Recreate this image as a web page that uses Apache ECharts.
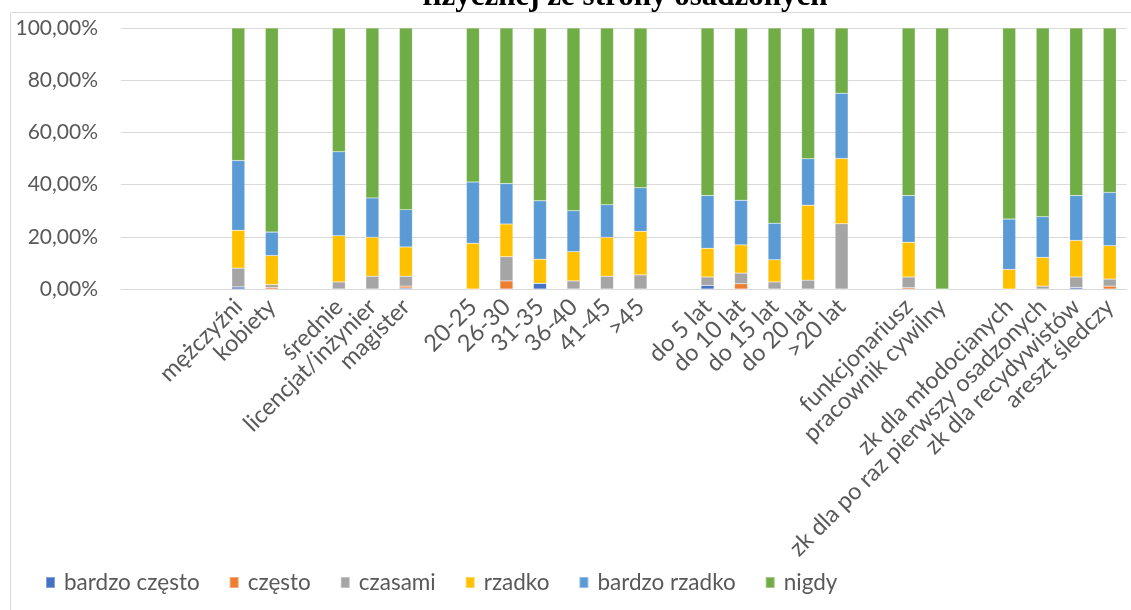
<!DOCTYPE html>
<html>
<head>
<meta charset="utf-8">
<script src="https://cdn.jsdelivr.net/npm/echarts@6/dist/echarts.min.js"></script>
<style>
  html, body { margin: 0; padding: 0; background: #fff; }
  #chart { width: 1131px; height: 610px; }
</style>
</head>
<body>
<div id="chart"></div>
<script>
// kategorie (puste miejsca = odstępy między grupami)
var categories = [' ', '  ', '   ', 'mężczyźni', 'kobiety', '    ',
  'średnie', 'licencjat/inżynier', 'magister', '     ',
  '20-25', '26-30', '31-35', '36-40', '41-45', '>45', '      ',
  'do 5 lat', 'do 10 lat', 'do 15 lat', 'do 20 lat', '>20 lat', '       ',
  'funkcjonariusz', 'pracownik cywilny', '        ',
  'zk dla młodocianych', 'zk dla po raz pierwszy osadzonych', 'zk dla recydywistów', 'areszt śledczy'];

var seriesNames = ['bardzo często', 'często', 'czasami', 'rzadko', 'bardzo rzadko', 'nigdy'];
var colors = ['#4472C4', '#ED7D31', '#A5A5A5', '#FFC000', '#5B9BD5', '#70AD47'];

var bardzoCzesto = [null, null, null, 0.8, 0, null, 0, 0, 0.4, null,
  0, 0, 2.2, 0, 0, 0, null, 1.4, 0, 0, 0, 0, null, 0, 0, null, 0, 0, 0.6, 0];
var czesto = [null, null, null, 0, 0.6, null, 0, 0, 0.7, null,
  0, 3.1, 0, 0, 0, 0, null, 0, 2.0, 0, 0, 0, null, 0.5, 0, null, 0, 0, 0, 1.1];
var czasami = [null, null, null, 7.2, 1.1, null, 2.7, 4.9, 3.8, null,
  0, 9.3, 0, 3.1, 4.9, 5.4, null, 3.2, 4.1, 2.7, 3.4, 25, null, 4.1, 0, null, 0, 1.1, 4.0, 2.7];
var rzadko = [null, null, null, 14.5, 11.1, null, 17.7, 14.9, 11.2, null,
  17.5, 12.5, 9.2, 11.2, 14.9, 16.7, null, 11.0, 10.8, 8.5, 28.7, 25, null, 13.3, 0, null, 7.5, 11.0, 14.0, 12.8];
var bardzoRzadko = [null, null, null, 26.7, 9.0, null, 32.2, 15.1, 14.3, null,
  23.5, 15.5, 22.4, 15.7, 12.5, 16.7, null, 20.2, 17.1, 14.0, 17.8, 25, null, 17.9, 0, null, 19.3, 15.6, 17.2, 20.4];
var nigdy = [null, null, null, 50.8, 78.2, null, 47.4, 65.1, 69.6, null,
  59.0, 59.6, 66.2, 70.0, 67.7, 61.2, null, 64.2, 66.0, 74.8, 50.1, 25, null, 64.2, 100, null, 73.2, 72.3, 64.2, 63.0];

var seriesData = [bardzoCzesto, czesto, czasami, rzadko, bardzoRzadko, nigdy];

var font = 'Lato, "Noto Sans", sans-serif';

var chart = echarts.init(document.getElementById('chart'));
var option = {
  animation: false,
  color: colors,
  graphic: [
    {
      type: 'rect',
      shape: { x: 10.5, y: 12.5, width: 1200, height: 700 },
      style: { fill: 'none', stroke: '#d9d9d9', lineWidth: 1 },
      z: -1
    },
    {
      type: 'text',
      x: 625,
      y: 12,
      style: {
        text: 'fizycznej ze strony osadzonych',
        font: 'bold 31px "Liberation Serif", serif',
        fill: '#000',
        align: 'center',
        verticalAlign: 'bottom'
      }
    }
  ],
  grid: {
    left: 121,
    right: 4.5,
    top: 28,
    height: 261
  },
  legend: {
    data: seriesNames,
    left: 40,
    top: 566,
    itemWidth: 9,
    itemHeight: 11,
    itemGap: 29,
    icon: 'rect',
    textStyle: { fontFamily: font, fontSize: 22.5, color: '#595959', padding: [0, 0, 0, 4] }
  },
  xAxis: {
    type: 'category',
    data: categories,
    axisLine: { lineStyle: { color: '#d9d9d9' } },
    axisTick: { show: false },
    axisLabel: {
      interval: 0,
      rotate: 45,
      margin: 14,
      fontFamily: font,
      fontSize: 23.5,
      color: '#595959'
    }
  },
  yAxis: {
    type: 'value',
    min: 0,
    max: 100,
    interval: 20,
    axisLine: { show: false },
    axisTick: { show: false },
    splitLine: { lineStyle: { color: '#d9d9d9' } },
    axisLabel: {
      margin: 23,
      fontFamily: font,
      fontSize: 21,
      color: '#595959',
      formatter: function (v) {
        return v.toFixed(2).replace('.', ',') + '%';
      }
    }
  },
  series: seriesNames.map(function (name, i) {
    return {
      name: name,
      type: 'bar',
      stack: 'total',
      barWidth: 13,
      data: seriesData[i],
      itemStyle: { borderColor: 'rgba(255,255,255,0.35)', borderWidth: 0.5 }
    };
  })
};
chart.setOption(option);
</script>
</body>
</html>
